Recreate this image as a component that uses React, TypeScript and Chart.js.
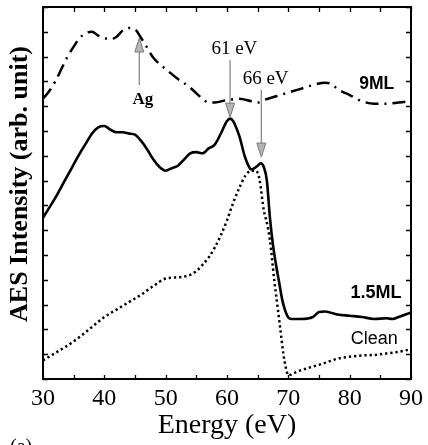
import React, { useEffect, useRef } from "react";
import { Chart, registerables } from "chart.js";

Chart.register(...registerables);

// 9ML (dash-dot)
const e9x = [30, 31, 32, 33, 34, 35, 36, 37, 38, 39, 40, 41, 42, 43, 44, 45, 46, 47, 48, 50, 52, 54, 56, 57, 58, 60, 62, 64, 65, 66, 68, 70, 72, 74, 76, 77, 78, 80, 82, 84, 86, 88, 90];
const e9y = [11.3, 11.6, 12.0, 12.5, 13.0, 13.4, 13.75, 13.95, 14.0, 13.85, 13.75, 13.7, 13.8, 14.05, 14.15, 14.1, 13.75, 13.35, 12.95, 12.5, 12.1, 11.75, 11.3, 11.15, 11.15, 11.25, 11.3, 11.2, 11.15, 11.25, 11.4, 11.55, 11.7, 11.85, 11.95, 11.9, 11.7, 11.45, 11.2, 11.1, 11.1, 11.15, 11.2];

// 1.5ML (solid)
const e15x = [30, 31, 32, 33, 34, 35, 36, 37, 38, 39, 40, 41, 42, 43, 44, 45, 46, 47, 48, 49, 50, 51, 52, 53, 54, 55, 56, 57, 58, 59, 60, 60.5, 61, 62, 63, 64, 65, 65.5, 66, 66.5, 67, 67.5, 68, 68.5, 69, 69.5, 70, 70.5, 72, 74, 75, 76, 78, 80, 82, 84, 86, 87, 88, 90];
const e15y = [6.5, 6.9, 7.3, 7.75, 8.2, 8.65, 9.1, 9.5, 9.9, 10.15, 10.2, 10.05, 9.95, 9.95, 9.9, 9.85, 9.6, 9.25, 8.85, 8.55, 8.4, 8.5, 8.6, 8.85, 9.1, 9.15, 9.1, 9.3, 9.45, 9.9, 10.4, 10.5, 10.4, 9.8, 8.9, 8.45, 8.6, 8.7, 8.55, 8.0, 6.5, 5.4, 4.6, 3.9, 3.2, 2.75, 2.48, 2.42, 2.42, 2.5, 2.7, 2.72, 2.6, 2.55, 2.5, 2.42, 2.45, 2.42, 2.5, 2.68];

// Clean (dotted)
const ecx = [30, 32, 34, 36, 38, 40, 42, 44, 46, 48, 50, 52, 54, 55, 56, 57, 58, 59, 60, 61, 62, 63, 64, 64.7, 65.3, 66, 66.5, 67, 67.7, 68.2, 68.7, 69.2, 69.6, 70, 71, 72, 74, 76, 78, 80, 82, 84, 86, 88, 90];
const ecy = [0.75, 1.05, 1.35, 1.7, 2.1, 2.5, 2.8, 3.1, 3.4, 3.75, 4.05, 4.1, 4.2, 4.35, 4.6, 4.9, 5.3, 5.8, 6.4, 7.1, 7.7, 8.2, 8.4, 8.4, 8.05, 6.8, 6.3, 5.6, 4.0, 3.0, 2.0, 1.0, 0.45, 0.15, 0.25, 0.35, 0.5, 0.65, 0.82, 0.9, 0.95, 0.97, 1.03, 1.1, 1.2];

const xTickLabels = [30, 40, 50, 60, 70, 80, 90];

// Arrows: [x, yStart, yTip]
const arrows = [
  [45.7, 11.85, 13.75],
  [60.5, 12.86, 10.56],
  [65.6, 11.65, 8.95],
];

const labels = [
  { text: "Ag", x: 46.3, y: 11.25, font: "bold 17px 'Liberation Serif'" },
  { text: "61 eV", x: 61.2, y: 13.3, font: "19px 'Liberation Serif'" },
  { text: "66 eV", x: 66.3, y: 12.1, font: "19px 'Liberation Serif'" },
  { text: "9ML", x: 84.4, y: 11.9, font: "bold 17.5px 'Liberation Sans'" },
  { text: "1.5ML", x: 84.3, y: 3.45, font: "bold 18px 'Liberation Sans'" },
  { text: "Clean", x: 84.0, y: 1.6, font: "18px 'Liberation Sans'" },
];

const toPts = (xs: number[], ys: number[]) => xs.map((x, i) => ({ x, y: ys[i] }));

const decor = {
  id: "decor",
  afterDatasetsDraw(chart: any) {
    const { ctx, chartArea: a, scales } = chart;
    const xs = scales.x, ys = scales.y;
    ctx.save();
    // frame
    ctx.strokeStyle = "#000";
    ctx.lineWidth = 2;
    ctx.strokeRect(a.left, a.top, a.right - a.left, a.bottom - a.top);
    // ticks
    ctx.lineWidth = 1.3;
    ctx.beginPath();
    for (let v = 30; v <= 90; v += 5) {
      const px = Math.round(xs.getPixelForValue(v)) + 0.5;
      ctx.moveTo(px, a.bottom); ctx.lineTo(px, a.bottom - 4);
      ctx.moveTo(px, a.top); ctx.lineTo(px, a.top + 5);
    }
    for (let v = 0; v <= 15; v += 1) {
      const py = Math.round(ys.getPixelForValue(v)) + 0.5;
      ctx.moveTo(a.left, py); ctx.lineTo(a.left + 5, py);
      ctx.moveTo(a.right, py); ctx.lineTo(a.right - 5, py);
    }
    ctx.stroke();
    // arrows
    for (const [x, y0, y1] of arrows) {
      const px = xs.getPixelForValue(x);
      const p0 = ys.getPixelForValue(y0);
      const p1 = ys.getPixelForValue(y1);
      const dir = p1 > p0 ? 1 : -1;
      const headLen = 14;
      ctx.strokeStyle = "#8a8a8a";
      ctx.lineWidth = 1.3;
      ctx.beginPath();
      ctx.moveTo(px, p0);
      ctx.lineTo(px, p1 - dir * headLen);
      ctx.stroke();
      ctx.beginPath();
      ctx.moveTo(px - 4.5, p1 - dir * headLen);
      ctx.lineTo(px + 4.5, p1 - dir * headLen);
      ctx.lineTo(px, p1);
      ctx.closePath();
      ctx.fillStyle = "#b5b5b5";
      ctx.fill();
      ctx.strokeStyle = "#7a7a7a";
      ctx.lineWidth = 1;
      ctx.stroke();
    }
    // labels
    ctx.fillStyle = "#000";
    ctx.textAlign = "center";
    ctx.textBaseline = "middle";
    for (const l of labels) {
      ctx.font = l.font;
      ctx.fillText(l.text, xs.getPixelForValue(l.x), ys.getPixelForValue(l.y));
    }
    // axis titles
    ctx.font = "28px 'Liberation Serif'";
    ctx.fillText("Energy (eV)", (a.left + a.right) / 2, 426);
    ctx.save();
    ctx.translate(20, (a.top + a.bottom) / 2 - 9);
    ctx.rotate(-Math.PI / 2);
    ctx.font = "bold 26px 'Liberation Serif'";
    ctx.fillText("AES Intensity (arb. unit)", 0, 0);
    ctx.restore();
    ctx.font = "20px 'Liberation Serif'";
    ctx.textAlign = "left";
    ctx.textBaseline = "top";
    ctx.fillText("(a)", 10, 438);
    ctx.restore();
  },
};

export default function App() {
  const ref = useRef<HTMLCanvasElement>(null);
  useEffect(() => {
    if (!ref.current) return;
    const chart = new Chart(ref.current, {
      type: "line",
      data: {
        datasets: [
          {
            label: "9ML",
            data: toPts(e9x, e9y),
            borderColor: "#000",
            borderWidth: 2.5,
            borderDash: [13, 6, 2, 6],
            pointRadius: 0,
            cubicInterpolationMode: "monotone",
          },
          {
            label: "1.5ML",
            data: toPts(e15x, e15y),
            borderColor: "#000",
            borderWidth: 2.6,
            pointRadius: 0,
            cubicInterpolationMode: "monotone",
          },
          {
            label: "Clean",
            data: toPts(ecx, ecy),
            borderColor: "#000",
            borderWidth: 2.5,
            borderDash: [2.3, 2.9],
            pointRadius: 0,
            cubicInterpolationMode: "monotone",
          },
        ],
      },
      options: {
        responsive: false,
        animation: false,
        layout: { padding: { top: 7, right: 12, left: 0, bottom: 0 } },
        plugins: { legend: { display: false }, tooltip: { enabled: false } },
        scales: {
          x: {
            type: "linear",
            min: 30,
            max: 90,
            grid: { display: false, drawTicks: false },
            border: { display: false },
            afterBuildTicks: (s: any) => {
              s.ticks = xTickLabels.map((v) => ({ value: v }));
            },
            afterFit: (s: any) => {
              s.height = 66;
            },
            ticks: {
              padding: 5,
              color: "#000",
              font: { family: "'Liberation Serif'", size: 24 },
              maxRotation: 0,
            },
          },
          y: {
            type: "linear",
            min: 0,
            max: 15,
            grid: { display: false, drawTicks: false },
            border: { display: false },
            ticks: { display: false, stepSize: 1 },
            afterFit: (s: any) => {
              s.width = 43;
            },
          },
        },
      },
      plugins: [decor],
    });
    return () => chart.destroy();
  }, []);
  return (
    <div style={{ position: "absolute", left: 0, top: 0, width: 428, height: 445, background: "#fff" }}>
      <canvas ref={ref} width={428} height={445} style={{ display: "block" }} />
    </div>
  );
}
